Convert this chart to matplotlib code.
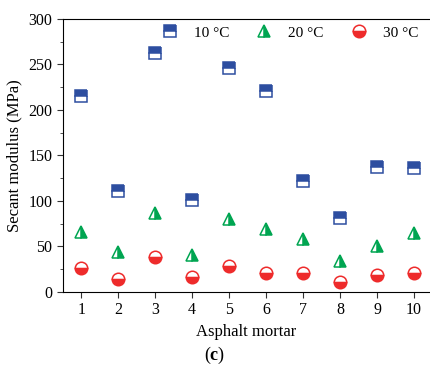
import matplotlib.pyplot as plt
from matplotlib.ticker import MultipleLocator

plt.rcParams['font.family'] = ['Liberation Serif', 'DejaVu Serif']
plt.rcParams['mathtext.fontset'] = 'custom'
plt.rcParams['mathtext.rm'] = 'Liberation Serif'
plt.rcParams['mathtext.bf'] = 'Liberation Serif:bold'

# asphalt mortar numbers
mortar = [1, 2, 3, 4, 5, 6, 7, 8, 9, 10]
# secant modulus (MPa)
mod10 = [215, 111, 263, 101, 246, 221, 122, 81, 137, 136]
mod20 = [66, 44, 87, 41, 80, 69, 58, 34, 50, 65]
mod30 = [26, 14, 38, 17, 28, 21, 21, 11, 19, 21]

fig = plt.figure(figsize=(4.3, 3.71), dpi=100)
ax = fig.add_axes([0.146, 0.213, 0.854, 0.736])

ax.plot(mortar, mod10, 's', ls='none', fillstyle='top', color='#2d4ea0',
        markerfacecoloralt='white', markersize=8, mew=1.1, label='10 °C')
ax.plot(mortar, mod20, '^', ls='none', fillstyle='right', color='#00a551',
        markerfacecoloralt='white', markersize=9, mew=1.1, label='20 °C')
ax.plot(mortar, mod30, 'o', ls='none', fillstyle='bottom', color='#ee2b2b',
        markerfacecoloralt='white', markersize=9, mew=1.1, label='30 °C')

ax.set_xlim(0.5, 10.43)
ax.set_ylim(0, 300)
ax.set_xticks(mortar)
ax.yaxis.set_major_locator(MultipleLocator(50))
ax.yaxis.set_minor_locator(MultipleLocator(25))
ax.tick_params(which='both', direction='out', labelsize=11.5, color='#333333')
ax.tick_params(which='major', length=4)
ax.tick_params(which='minor', length=2.5)
ax.spines['right'].set_visible(False)

ax.set_xlabel('Asphalt mortar', fontsize=12)
ax.set_ylabel('Secant modulus (MPa)', fontsize=12)

ax.legend(loc='upper right', ncol=3, frameon=False, fontsize=11,
          handlelength=1.0, handletextpad=1.07, columnspacing=1.8,
          bbox_to_anchor=(1.005, 1.025))

fig.text(0.5, 0.03, r'($\mathbf{c}$)', ha='center', fontsize=13)

plt.savefig('out.png', dpi=100)
